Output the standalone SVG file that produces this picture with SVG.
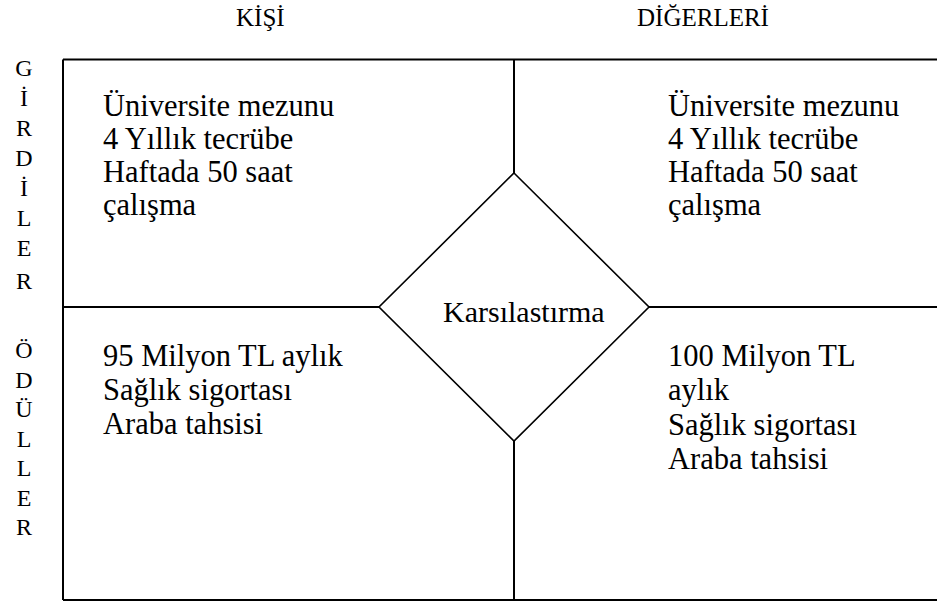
<svg xmlns="http://www.w3.org/2000/svg" width="937" height="604" viewBox="0 0 937 604">
<style>
text{font-family:"Liberation Serif","Times New Roman",serif;fill:#000}
.b{font-size:30.5px}
.k{font-size:30px}
.h{font-size:25px}
.s{font-size:24px;text-anchor:middle}
.ln{stroke:#000;stroke-width:2;fill:none}
.dm{stroke:#000;stroke-width:1.6;fill:#fff}
</style>
<rect width="937" height="604" fill="#fff"/>
<g id="headers">
<text class="h" x="236" y="26">KİŞİ</text>
<text class="h" x="637" y="26">DİĞERLERİ</text>
</g>
<g id="side-girdiler">
<text class="s" x="24" y="76">G</text>
<text class="s" x="24" y="106">İ</text>
<text class="s" x="24" y="136">R</text>
<text class="s" x="24" y="166">D</text>
<text class="s" x="24" y="196">İ</text>
<text class="s" x="24" y="226">L</text>
<text class="s" x="24" y="256">E</text>
<text class="s" x="24" y="289">R</text>
</g>
<g id="side-oduller">
<text class="s" x="24" y="358">Ö</text>
<text class="s" x="24" y="387.5">D</text>
<text class="s" x="24" y="417">Ü</text>
<text class="s" x="24" y="446.5">L</text>
<text class="s" x="24" y="476">L</text>
<text class="s" x="24" y="505.5">E</text>
<text class="s" x="24" y="535">R</text>
</g>
<g id="connectors">
<path class="ln" d="M63 59.5H937M63 600H937M63 59.5V600"/>
<path class="ln" d="M514 59.5V173M514 441V600M63 307H379M649 307H937"/>
</g>
<g id="kisi-girdi">
<text class="b" x="103" y="116">Üniversite mezunu</text>
<text class="b" x="103" y="149">4 Yıllık tecrübe</text>
<text class="b" x="103" y="182">Haftada 50 saat</text>
<text class="b" x="103" y="215">çalışma</text>
</g>
<g id="digerleri-girdi">
<text class="b" x="668" y="116">Üniversite mezunu</text>
<text class="b" x="668" y="149">4 Yıllık tecrübe</text>
<text class="b" x="668" y="182">Haftada 50 saat</text>
<text class="b" x="668" y="215">çalışma</text>
</g>
<g id="kisi-odul">
<text class="b" x="103" y="366">95 Milyon TL aylık</text>
<text class="b" x="103" y="400">Sağlık sigortası</text>
<text class="b" x="103" y="434">Araba tahsisi</text>
</g>
<g id="digerleri-odul">
<text class="b" x="668" y="366">100 Milyon TL</text>
<text class="b" x="668" y="400">aylık</text>
<text class="b" x="668" y="434.5">Sağlık sigortası</text>
<text class="b" x="668" y="469">Araba tahsisi</text>
</g>
<g id="karsilastirma">
<polygon class="dm" points="514,173 649,307 514,441 379,307"/>
<text class="k" x="443" y="321.5">Karsılastırma</text>
</g>
</svg>
